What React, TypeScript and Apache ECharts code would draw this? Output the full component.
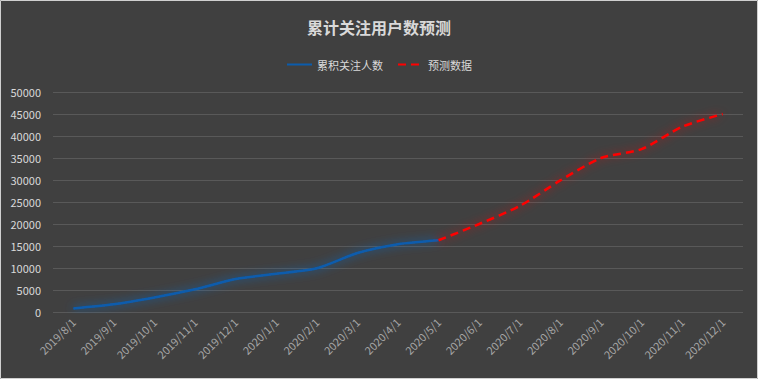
import React, { useEffect, useRef } from "react";
import * as echarts from "echarts";

const categories = [
  "2019/8/1", "2019/9/1", "2019/10/1", "2019/11/1", "2019/12/1",
  "2020/1/1", "2020/2/1", "2020/3/1", "2020/4/1", "2020/5/1",
  "2020/6/1", "2020/7/1", "2020/8/1", "2020/9/1", "2020/10/1",
  "2020/11/1", "2020/12/1",
];
const actualValues = [
  820, 1750, 3300, 5150, 7500, 8700, 9950, 13400, 15400, 16300,
  null, null, null, null, null, null, null,
];
const forecastValues = [
  null, null, null, null, null, null, null, null, null, 16300,
  20000, 24100, 29900, 35000, 37000, 42100, 45000,
];
const seriesNames = ["累积关注人数", "预测数据"];
const titleText = "累计关注用户数预测";

export default function App() {
  const ref = useRef<HTMLDivElement>(null);
  useEffect(() => {
    if (!ref.current) return;
    const chart = echarts.init(ref.current, null, { renderer: "svg" });
    chart.setOption({
      animation: false,
      backgroundColor: "#404040",
      textStyle: { fontFamily: "'Noto Sans CJK SC', 'Noto Sans', sans-serif" },
      title: {
        text: titleText,
        left: "center",
        top: 14,
        textStyle: { color: "#d9d9d9", fontSize: 16, fontWeight: "bold" },
      },
      legend: {
        top: 54,
        left: "center",
        itemWidth: 25,
        itemHeight: 10,
        itemGap: 14,
        itemStyle: { opacity: 0 },
        textStyle: { color: "#d9d9d9", fontSize: 11 },
        data: seriesNames,
      },
      graphic: [
        {
          type: "rect",
          shape: { x: 0.5, y: 0.5, width: 757, height: 378 },
          style: { fill: "none", stroke: "#d0d0d0", lineWidth: 1 },
          silent: true,
        },
      ],
      grid: { left: 53, right: 15, top: 92, bottom: 67, containLabel: false },
      xAxis: {
        type: "category",
        data: categories,
        boundaryGap: true,
        axisLine: { show: false },
        axisTick: { show: false },
        axisLabel: { rotate: 45, color: "#a6a6a6", fontSize: 11, margin: 8, interval: 0 },
      },
      yAxis: {
        type: "value",
        min: 0,
        max: 50000,
        interval: 5000,
        axisLine: { show: false },
        axisTick: { show: false },
        axisLabel: {
          color: "#d9d9d9",
          fontSize: 11,
          margin: 12,
          formatter: (v: number) => String(v),
        },
        splitLine: { lineStyle: { color: "#595959", width: 1 } },
      },
      series: [
        {
          name: seriesNames[0],
          type: "line",
          data: actualValues,
          symbol: "none",
          smooth: 0.25,
          lineStyle: {
            color: "#0b5cad",
            width: 2.5,
            shadowColor: "rgba(30,110,220,0.8)",
            shadowBlur: 10,
          },
          itemStyle: { color: "#0b5cad" },
        },
        {
          name: seriesNames[1],
          type: "line",
          data: forecastValues,
          symbol: "none",
          smooth: 0.25,
          lineStyle: {
            color: "#ff0000",
            width: 2.5,
            type: [8, 5],
            shadowColor: "rgba(255,0,0,0.8)",
            shadowBlur: 10,
          },
          itemStyle: { color: "#ff0000" },
        },
      ],
    });
    return () => chart.dispose();
  }, []);
  return (
    <div
      ref={ref}
      style={{ position: "fixed", left: 0, top: 0, width: 758, height: 379 }}
    />
  );
}
